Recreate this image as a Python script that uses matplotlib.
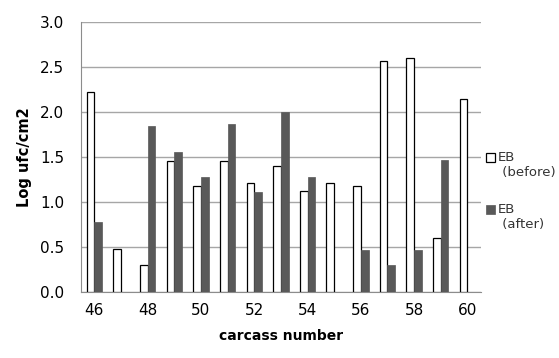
import matplotlib.pyplot as plt
from matplotlib.container import BarContainer
from matplotlib.legend_handler import HandlerPatch, update_from_first_child
from matplotlib.patches import Rectangle
import numpy as np

carcass = [46, 47, 48, 49, 50, 51, 52, 53, 54, 55, 56, 57, 58, 59, 60]
eb_before = [2.22, 0.48, 0.30, 1.46, 1.18, 1.45, 1.21, 1.40, 1.12, 1.21, 1.18, 2.56, 2.60, 0.60, 2.14]
eb_after = [0.78, 0.0, 1.84, 1.55, 1.28, 1.87, 1.11, 2.00, 1.28, 0.0, 0.47, 0.30, 0.47, 1.47, 0.0]
yticks = [0.0, 0.5, 1.0, 1.5, 2.0, 2.5, 3.0]
legend_labels = ["EB\n (before)", "EB\n (after)"]


def top_square(legend, orig_handle, xdescent, ydescent, width, height, fontsize):
    # put the legend square next to the first line of the label
    return Rectangle((-xdescent, -ydescent + 0.6 * fontsize), width, height)


fig = plt.figure(figsize=(5.59, 3.58), dpi=100)
ax = fig.add_axes([0.145, 0.184, 0.715, 0.755])

x = np.arange(len(carcass))
w = 0.29
ax.bar(x - w/2, eb_before, w, color="white", edgecolor="black", lw=0.9,
       label=legend_labels[0], zorder=3)
ax.bar(x + w/2, eb_after, w, color="#595959", edgecolor="#595959", lw=0.5,
       label=legend_labels[1], zorder=3)

ax.set_xlim(-0.5, len(carcass) - 0.5)
ax.set_ylim(0, 3.0)
ax.set_yticks(yticks)
ax.set_yticklabels([f"{v:.1f}" for v in yticks], fontsize=11)
ax.set_xticks(x[::2])
ax.set_xticklabels([str(c) for c in carcass[::2]], fontsize=11)
ax.tick_params(length=0, pad=8)
ax.tick_params(axis="y", pad=12)

ax.yaxis.grid(True, color="#a6a6a6", lw=1, zorder=0)
for s in ["top", "right"]:
    ax.spines[s].set_visible(False)
ax.spines["left"].set_color("#8c8c8c")
ax.spines["bottom"].set_color("#8c8c8c")

ax.set_xlabel("carcass number", fontsize=10, fontweight="bold", labelpad=8)
ax.set_ylabel("Log ufc/cm2", fontsize=10.5, fontweight="bold", labelpad=6)

sq = HandlerPatch(patch_func=top_square, update_func=update_from_first_child)
ax.legend(loc="upper left", bbox_to_anchor=(1.0, 0.54), frameon=False,
          fontsize=9.5, handlelength=0.65, handleheight=0.65, handletextpad=0.25,
          labelspacing=1.8, borderaxespad=0, labelcolor="#333333",
          handler_map={BarContainer: sq})

fig.savefig("out.png", dpi=100)
